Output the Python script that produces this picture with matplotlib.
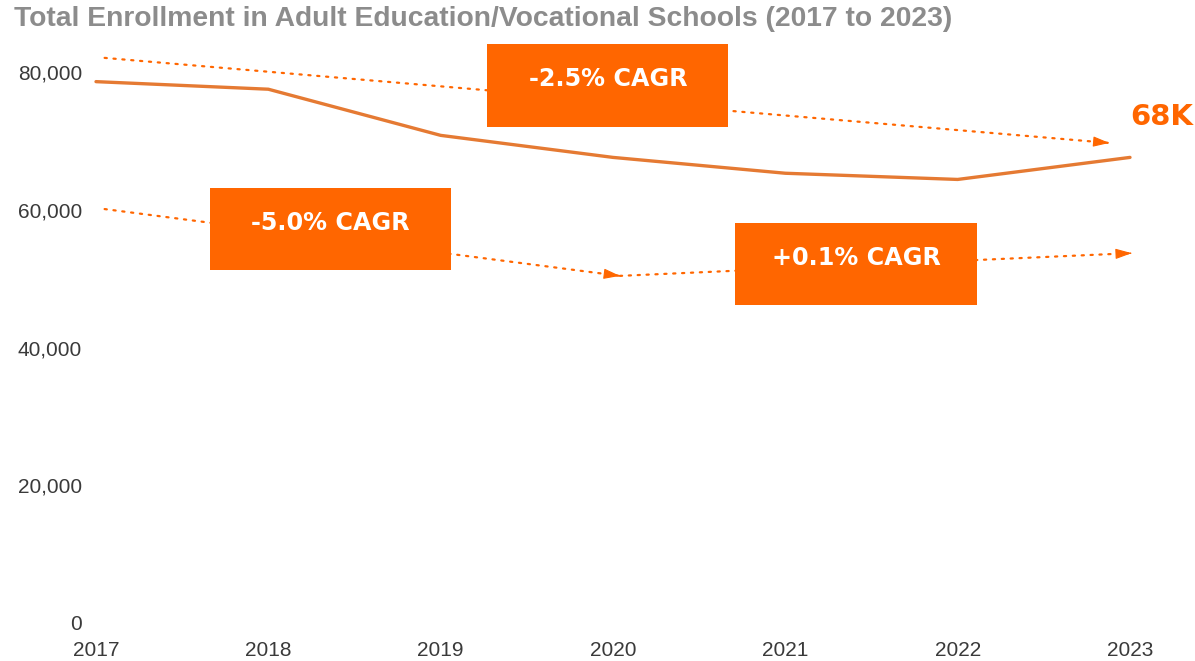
#!/usr/bin/env python3
"""
Total enrollment in adult education / vocational schools, 2017-2023
"""

import matplotlib
matplotlib.use('Agg')
import matplotlib.pyplot as plt
from matplotlib.patches import Rectangle
from matplotlib.ticker import FuncFormatter

plt.rcParams['font.family'] = ['Liberation Sans', 'DejaVu Sans']

# data
years = [2017, 2018, 2019, 2020, 2021, 2022, 2023]
enrollment = [78600, 77500, 70800, 67600, 65300, 64400, 67600]
y_ticks = [0, 20000, 40000, 60000, 80000]
title = 'Total Enrollment in Adult Education/Vocational Schools (2017 to 2023)'
last_label = '68K'

# CAGR callouts: label, box (x0, x1, y0, y1), text y
cagr_labels = ['-2.5% CAGR', '-5.0% CAGR', '+0.1% CAGR']
cagr_boxes = [(2019.27, 2020.67, 72000, 84100),
              (2017.66, 2019.06, 51250, 63150),
              (2020.71, 2022.11, 46150, 58050)]
cagr_text_y = [78950, 58050, 53000]
# trend arrows: start -> tip
arrows = [((2017.05, 82050), (2022.88, 69700)),
          ((2017.05, 60100), (2020.04, 50400)),
          ((2020.04, 50400), (2023.01, 53700))]

ORANGE = '#FF6600'
LINE = '#E57A33'
BOX_FONT = ['DejaVu Sans']

fig = plt.figure(figsize=(11.95, 6.61), dpi=100)
W, H = 1195, 661
ax = fig.add_axes([96 / W, (H - 623) / H, (1130 - 96) / W, (623 - 72) / H])

ax.plot(years, enrollment, color=LINE, linewidth=2.4, solid_capstyle='round',
        solid_joinstyle='round', zorder=3, clip_on=False)

# dotted trend lines with solid heads
for (x0, y0), (x1, y1) in arrows:
    ax.plot([x0, x1], [y0, y1], color=ORANGE, linewidth=1.6,
            linestyle=(0, (1, 3)), dash_capstyle='round', zorder=2, clip_on=False)
    back = (x1 - (x1 - x0) * 0.002, y1 - (y1 - y0) * 0.002)
    ax.annotate('', xy=(x1, y1), xytext=back, annotation_clip=False,
                arrowprops=dict(arrowstyle='-|>,head_length=1.0,head_width=0.32',
                                color=ORANGE, linewidth=0.8, shrinkA=0, shrinkB=0),
                zorder=2)

# CAGR boxes
for label, (bx0, bx1, by0, by1), ty in zip(cagr_labels, cagr_boxes, cagr_text_y):
    ax.add_patch(Rectangle((bx0, by0), bx1 - bx0, by1 - by0, facecolor=ORANGE,
                           edgecolor='none', zorder=4, clip_on=False))
    ax.text((bx0 + bx1) / 2, ty, label, ha='center', va='center', color='white',
            fontsize=17.2, fontweight='bold', family=BOX_FONT, zorder=5)

ax.text(years[-1], 73450, last_label, ha='left', va='center', color=ORANGE,
        fontsize=21, fontweight='bold', family=BOX_FONT)

ax.set_xlim(years[0], years[-1])
ax.set_ylim(0, 80000)
ax.set_xticks(years)
ax.set_yticks(y_ticks)
ax.yaxis.set_major_formatter(FuncFormatter(lambda v, p: f'{int(v):,}'))
ax.tick_params(axis='both', length=0, labelsize=15, labelcolor='#3a3a3a')
ax.tick_params(axis='y', pad=10)
ax.tick_params(axis='x', pad=13)
for s in ax.spines.values():
    s.set_visible(False)

fig.text(14 / W, 1 - 19 / H, title, ha='left', va='center', fontsize=20.3,
         fontweight='bold', color='#8c8c8c')

fig.savefig('out.png', dpi=100)
